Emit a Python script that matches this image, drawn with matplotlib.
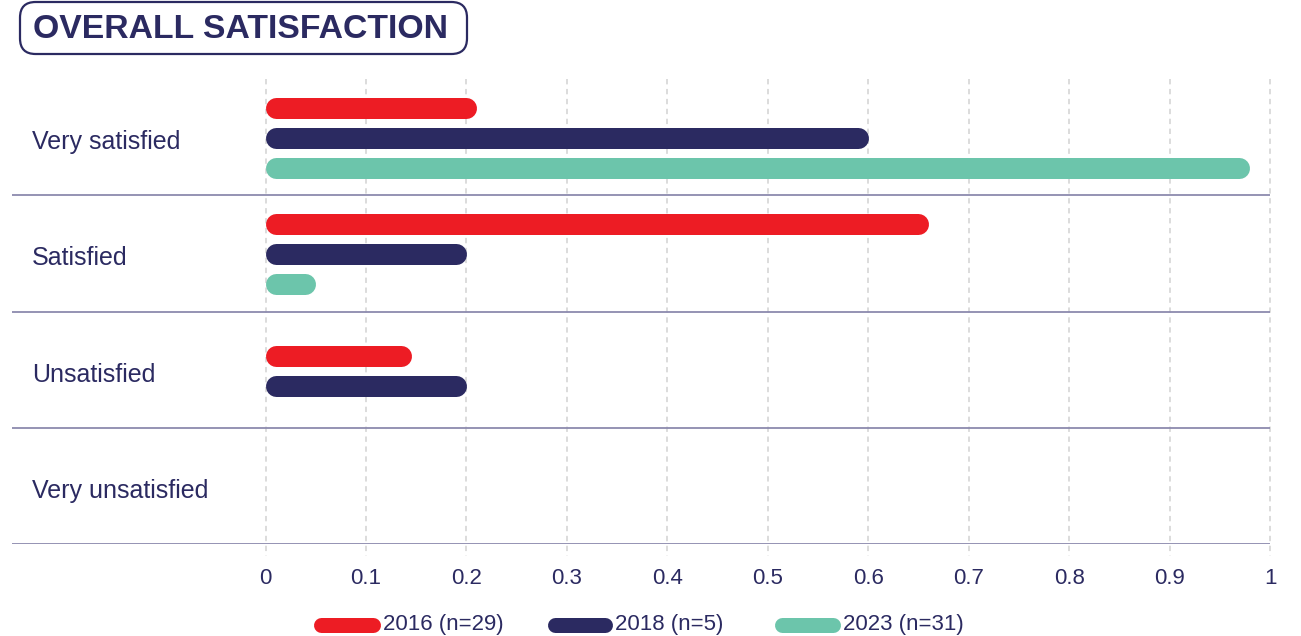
import matplotlib
matplotlib.use("Agg")
import matplotlib.pyplot as plt
from matplotlib.patches import FancyBboxPatch
from matplotlib.lines import Line2D

# ---- data -------------------------------------------------------------
categories = ["Very satisfied", "Satisfied", "Unsatisfied", "Very unsatisfied"]
series_names = ["2016 (n=29)", "2018 (n=5)", "2023 (n=31)"]
values_2016 = [0.21, 0.66, 0.145, 0.0]
values_2018 = [0.60, 0.20, 0.20, 0.0]
values_2023 = [0.98, 0.05, 0.0, 0.0]
tick_values = [0, 0.1, 0.2, 0.3, 0.4, 0.5, 0.6, 0.7, 0.8, 0.9, 1.0]
tick_labels = ["0", "0.1", "0.2", "0.3", "0.4", "0.5", "0.6", "0.7", "0.8", "0.9", "1"]
title = "OVERALL SATISFACTION"

# ---- style ------------------------------------------------------------
RED = "#ED1C24"
NAVY = "#2B2A61"
TEAL = "#6CC5AB"
TEXT = "#2B2A61"
RULE = "#8C8AAE"
GRID = "#D2D2D2"
colors = [RED, NAVY, TEAL]
FONT = "Liberation Sans"

W, H, DPI = 1301, 636, 100
fig = plt.figure(figsize=(W / DPI, H / DPI), dpi=DPI)
fig.patch.set_facecolor("white")


def fx(px):
    return px / W


def fy(py):
    return 1 - py / H


# axes occupies the banded area of the chart
ax_left, ax_right, ax_top, ax_bottom = 12, 1270, 79, 544
ax = fig.add_axes([fx(ax_left), fy(ax_bottom), fx(ax_right - ax_left), (ax_bottom - ax_top) / H])
zero_px = 265.5
px_per_unit = (ax_right - zero_px) / 1.0
ax.set_xlim(-(zero_px - ax_left) / px_per_unit, 1.0)
n_cat = len(categories)
ax.set_ylim(n_cat, 0)
px_per_band = (ax_bottom - ax_top) / n_cat

for s in ax.spines.values():
    s.set_visible(False)
ax.set_yticks([])
ax.set_xticks(tick_values)
ax.set_xticklabels(tick_labels, fontfamily=FONT, fontsize=16, color=TEXT)
ax.tick_params(axis="x", length=0, pad=17)

# dashed vertical gridlines, running a little past the last rule
ax.vlines(tick_values, 0, n_cat + 12 / px_per_band, colors=GRID, linewidth=1.1,
          linestyles=(0, (3.5, 3)), zorder=0, clip_on=False)

# band separators
for i in range(1, n_cat + 1):
    ax.axhline(i, color=RULE, linewidth=1.3, zorder=1)

# category labels
label_x = -(zero_px - 32) / px_per_unit
for i, cat in enumerate(categories):
    ax.text(label_x, i + 0.5 + 5 / px_per_band, cat, fontfamily=FONT, fontsize=18,
            color=TEXT, va="center", ha="left")

# rounded bars; only non-zero bars are stacked around the band centre
bar_px = 21
bar_gap = 30 / px_per_band
lw_pt = bar_px * 72 / DPI
r = (bar_px / 2) / px_per_unit
all_series = [values_2016, values_2018, values_2023]
for i in range(n_cat):
    present = [k for k, s in enumerate(all_series) if s[i] > 0]
    n = len(present)
    for j, k in enumerate(present):
        v = all_series[k][i]
        y = i + 0.5 + (j - (n - 1) / 2) * bar_gap + 1 / px_per_band
        x0, x1 = r, max(v - r, r + 1e-6)
        ax.plot([x0, x1], [y, y], color=colors[k], linewidth=lw_pt,
                solid_capstyle="round", zorder=3)

# legend drawn as pills with labels
legend_pills = [(313, 380), (547, 612), (774, 840)]
leg_y = 624.5
pill_px = 15
for (a, b), c, name in zip(legend_pills, colors, series_names):
    rr = pill_px / 2
    fig.add_artist(Line2D([fx(a + rr), fx(b - rr)], [fy(leg_y), fy(leg_y)],
                          color=c, linewidth=pill_px * 72 / DPI,
                          solid_capstyle="round", transform=fig.transFigure))
    fig.text(fx(b + 3), fy(630), name, fontfamily=FONT, fontsize=16,
             color=TEXT, va="baseline", ha="left")

# title in a rounded frame
box = FancyBboxPatch((fx(20), fy(54)), fx(467) - fx(20), fy(2) - fy(54),
                     boxstyle="round,pad=0,rounding_size=0.012",
                     transform=fig.transFigure, facecolor="white",
                     edgecolor=NAVY, linewidth=1.6, mutation_aspect=W / H)
fig.add_artist(box)
fig.text(fx(33), fy(38), title, fontfamily=FONT, fontsize=24.3, fontweight="bold",
         color=NAVY, va="baseline", ha="left")

fig.savefig("out.png", dpi=DPI, facecolor="white")
